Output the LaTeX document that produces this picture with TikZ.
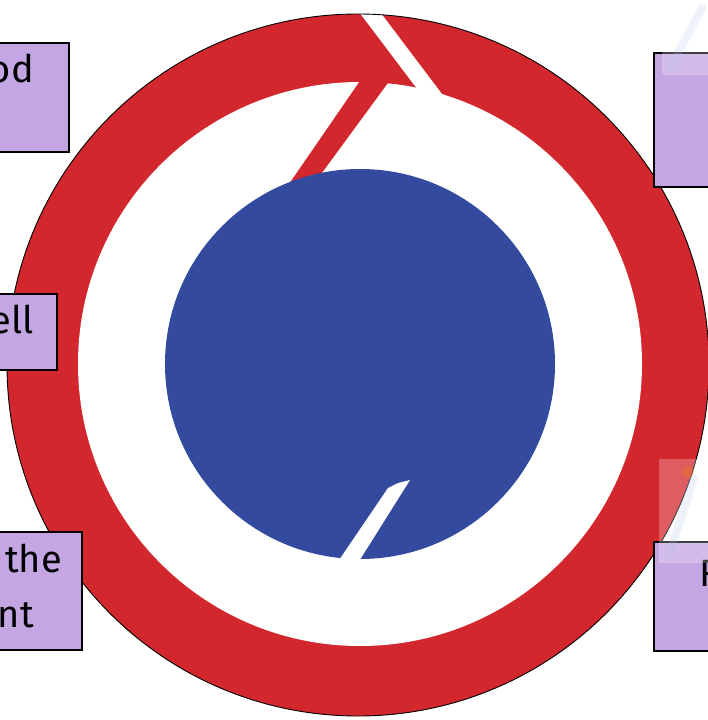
\documentclass[tikz,border=0pt]{standalone}
\usepackage{fontspec}
\setmainfont{Fira Sans}
\definecolor{ringred}{RGB}{211,39,46}
\definecolor{coreblue}{RGB}{51,74,158}
\definecolor{lilac}{RGB}{195,166,226}
\definecolor{syrblue}{RGB}{170,195,235}
\tikzset{
  labelbox/.style={fill=lilac, draw=black, line width=1.1pt},
  labeltext/.style={inner sep=0pt, font=\fontsize{38}{46}\selectfont},
  fadebox/.style={fill=white, opacity=0.25},
  syringe/.style={line width=8pt, line cap=round, opacity=0.2, draw=syrblue}
}
\begin{document}
\begin{tikzpicture}[x=1pt,y=-1pt]
\useasboundingbox (0,0) rectangle (708,720);
\fill[white] (0,0) rectangle (708,720);
% outer red ring
\fill[ringred] (358,365) circle[radius=351pt];
% white stripe across the ring at the top
\begin{scope}
  \clip (358,365) circle[radius=351pt];
  \fill[white] (350,0) -- (371,0) -- (445,98) -- (424,98) -- cycle;
\end{scope}
\draw[black, line width=0.9pt] (358,365) circle[radius=351pt];
% inner white disc
\fill[white] (360,364) circle[radius=282pt];
% red band from the ring to the core
\fill[ringred] (367.5,70) -- (396,72) -- (302,200) -- (278,200) -- cycle;
% blue core
\fill[coreblue] (360,364) circle[radius=195pt];
% white stripe in the core
\fill[white] (335,566) -- (356,566) -- (410,480) -- (398,483) -- (388,488) -- cycle;
% label boxes
\draw[labelbox] (-10,43) rectangle (69,152);
\node[labeltext, anchor=base east] (t1) at (34,82) {od};
\draw[labelbox] (-10,294) rectangle (57,370);
\node[labeltext, anchor=base east] (t2) at (34,333) {ell};
\draw[labelbox] (-10,532) rectangle (82,650);
\node[labeltext, anchor=base east] (t3) at (62,572) {the};
\node[labeltext, anchor=base east] (t4) at (34,627) {nt};
\draw[labelbox] (654,53) rectangle (720,187);
\draw[labelbox] (654,542) rectangle (720,651);
\node[labeltext, anchor=base west] (t5) at (699,586) {R};
% faded syringe pictures
\fill[fadebox] (662,0) rectangle (708,75);
\draw[syringe] (702,8) -- (670,68);
\fill[fadebox] (659,459) rectangle (708,563);
\draw[syringe] (694,478) -- (670,552);
\fill[orange, opacity=0.25] (688,472) circle[radius=6pt];
\end{tikzpicture}
\end{document}
